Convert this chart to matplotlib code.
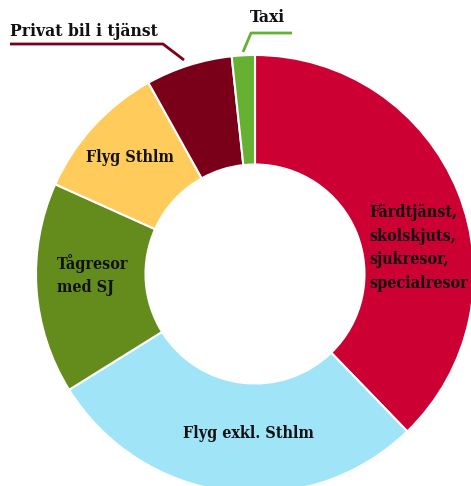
import matplotlib.pyplot as plt

# shares in percent, clockwise from the top
categories = ['Färdtjänst,\nskolskjuts,\nsjukresor,\nspecialresor', 'Flyg exkl. Sthlm',
              'Tågresor\nmed SJ', 'Flyg Sthlm', 'Privat bil i tjänst', 'Taxi']
shares = [37.8, 28.4, 15.6, 10.2, 6.4, 1.7]
colors = ['#CC0033', '#A0E4F8', '#638C1C', '#FFCC5C', '#7A0019', '#66B032']

W, H = 471, 486
fig = plt.figure(figsize=(W / 100, H / 100), dpi=100)
ax = fig.add_axes([0, 0, 1, 1])

# work in pixel units, y measured up from the bottom
cx, cy, r = 255, H - 274, 219
ax.pie(shares, colors=colors, startangle=90, counterclock=False,
       center=(cx, cy), radius=r,
       wedgeprops=dict(width=r * 0.5, edgecolor='white', linewidth=1.5))
ax.set_xlim(0, W)
ax.set_ylim(0, H)
ax.set_aspect('equal')
ax.axis('off')

font = dict(family='DejaVu Serif', fontweight='bold', fontstretch='condensed',
            color='#111111')

# labels inside the ring
ax.text(369, H - 248, categories[0], ha='left', va='center', fontsize=11.5,
        linespacing=1.5, **font)
ax.text(248, H - 433, categories[1], ha='center', va='center', fontsize=11.5, **font)
ax.text(57, H - 275, categories[2], ha='left', va='center', fontsize=11.5,
        linespacing=1.4, **font)
ax.text(130, H - 158, categories[3], ha='center', va='center', fontsize=11.5, **font)

# outside labels with leader lines
ax.text(10, H - 31, categories[4], ha='left', va='center', fontsize=12.5, **font)
ax.plot([10, 163, 184], [H - 44, H - 44, H - 60], color=colors[4], lw=2,
        solid_capstyle='butt')
ax.text(250, H - 18, categories[5], ha='left', va='center', fontsize=12.5, **font)
ax.plot([292, 251, 243], [H - 33, H - 33, H - 52], color=colors[5], lw=2,
        solid_capstyle='butt')

fig.savefig('out.png', dpi=100)
